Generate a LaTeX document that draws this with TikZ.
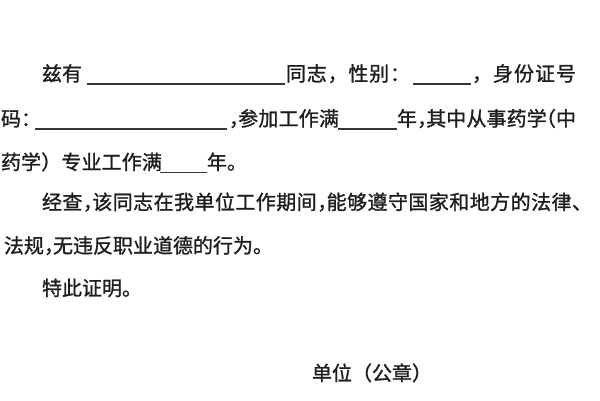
\documentclass[tikz,border=0pt]{standalone}
\usepackage{fontspec}
\newfontfamily\cjk[FakeBold=1.2]{Noto Sans CJK SC}
\definecolor{ink}{HTML}{1E1E1E}
\newcommand\hc{\makebox[0.45em][l]{，}}
\newcommand\hlp{\makebox[0.45em][r]{（}}
\def\spreadchars#1{\spreadnext#1\endspread}
\def\spreadnext#1#2\endspread{#1\ifx\relax#2\relax\else\hfil\spreadnext#2\endspread\fi}
\newcommand\jb[2]{\makebox[#1pt][s]{\spreadchars{#2}}}
\begin{document}
\begin{tikzpicture}[x=1pt,y=-1pt,
  txt/.style={anchor=base west, inner sep=0pt, outer sep=0pt, text=ink,
    font=\cjk\fontsize{20}{24}\selectfont},
  uline/.style={draw=ink!90, line width=1.3pt}]
\fill[white] (0,0) rectangle (600,400);
\useasboundingbox (0,0) rectangle (600,400);
% line 1
\node[txt] (l1a) at (42,81) {兹有};
\coordinate (u1s) at (87,84); \coordinate (u1e) at (285,84);
\draw[uline] (u1s) -- (u1e);
\node[txt] (l1b) at (286,81) {\jb{124}{同志，性别：}};
\coordinate (u2s) at (413,84); \coordinate (u2e) at (471,84);
\draw[uline] (u2s) -- (u2e);
\node[txt] (l1c) at (472,81) {\jb{104}{，身份证号}};
% line 2
\node[txt] (l2a) at (1,126) {码：};
\coordinate (u3s) at (35,129); \coordinate (u3e) at (227,129);
\draw[uline] (u3s) -- (u3e);
\node[txt] (l2b) at (229,126) {\jb{110}{\hc 参加工作满}};
\coordinate (u4s) at (338,129); \coordinate (u4e) at (397,129);
\draw[uline] (u4s) -- (u4e);
\node[txt] (l2c) at (397,126) {\jb{179}{年\hc 其中从事药学\hlp 中}};
% line 3
\node[txt] (l3a) at (1,169.5) {\jb{161}{药学）专业工作满}};
\coordinate (u5s) at (160,172.5); \coordinate (u5e) at (207,172.5);
\draw[uline] (u5s) -- (u5e);
\node[txt] (l3b) at (207,169.5) {年。};
% paragraph 2
\node[txt] (l4) at (42,209.5) {\jb{550}{经查\hc 该同志在我单位工作期间\hc 能够遵守国家和地方的法律、}};
\node[txt] (l5) at (4,253) {法规\hc 无违反职业道德的行为。};
% paragraph 3
\node[txt] (l6) at (42,295.5) {特此证明。};
% signature
\node[txt] (l7) at (312,380.5) {单位（公章）};
\end{tikzpicture}
\end{document}
